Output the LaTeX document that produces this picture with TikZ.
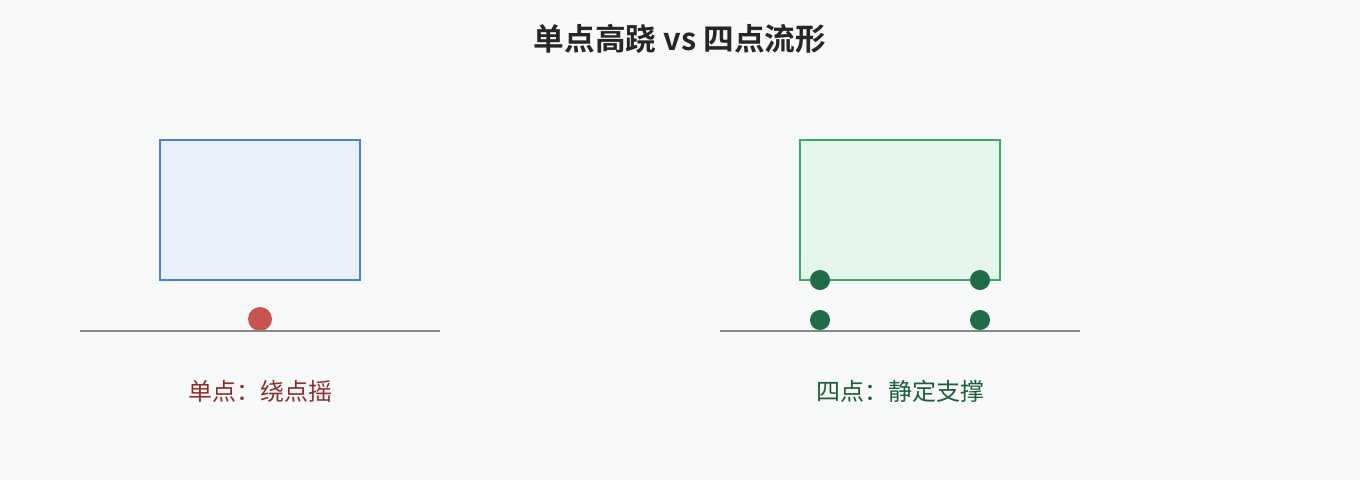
\documentclass[tikz,border=0pt]{standalone}
\usepackage{fontspec}
\newfontfamily\cjk{Noto Sans CJK SC}[BoldFont={Noto Sans CJK SC Bold}]
\usepackage{tikz}
\usetikzlibrary{arrows.meta}
\definecolor{bgcol}{HTML}{F7F8FA}
\definecolor{bluefill}{HTML}{E8F0FC}
\definecolor{blueline}{HTML}{4A80D6}
\definecolor{greenfill}{HTML}{E4F6EB}
\definecolor{greenline}{HTML}{3BA56C}
\definecolor{reddot}{HTML}{C85450}
\definecolor{greendot}{HTML}{1F6B45}
\definecolor{redtext}{HTML}{8B2E2A}
\definecolor{greentext}{HTML}{1F5C3A}
\definecolor{groundcol}{HTML}{888888}

\begin{document}
\begin{tikzpicture}[x=0.75pt, y=-0.75pt, thick,
    body/.style = {draw, line width=1.5pt, minimum width=150pt, minimum height=105pt, inner sep=0pt},
    ground/.style = {draw=groundcol, line width=1.1pt},
    foot/.style = {circle, inner sep=0pt, minimum size=15pt},
    label/.style = {font=\cjk\fontsize{18}{20}\selectfont}]
    \fill[bgcol] (0,0) rectangle (1360,480);

    % Nodes
    \node[font=\cjk\bfseries\fontsize{23}{26}\selectfont, text=black!85] (title) at (680, 39) {单点高跷 vs 四点流形};

    \node[body, draw=blueline, fill=bluefill] (single) at (260, 210) {};
    \node[body, draw=greenline, fill=greenfill] (four) at (900, 210) {};

    \coordinate (g1a) at (80, 331);
    \coordinate (g1b) at (440, 331);
    \coordinate (g2a) at (720, 331);
    \coordinate (g2b) at (1080, 331);

    \node[foot, fill=reddot, minimum size=18pt] (pin) at (260, 319) {};

    \node[foot, fill=greendot] (tl) at (820, 280) {};
    \node[foot, fill=greendot] (tr) at (980, 280) {};
    \node[foot, fill=greendot] (bl) at (820, 320) {};
    \node[foot, fill=greendot] (br) at (980, 320) {};

    \node[label, text=redtext] (singletext) at (260, 391) {单点：绕点摇};
    \node[label, text=greentext] (fourtext) at (900, 391) {四点：静定支撑};

    % Ground
    \draw[ground] (g1a) -- (g1b);
    \draw[ground] (g2a) -- (g2b);

\end{tikzpicture}
\end{document}
